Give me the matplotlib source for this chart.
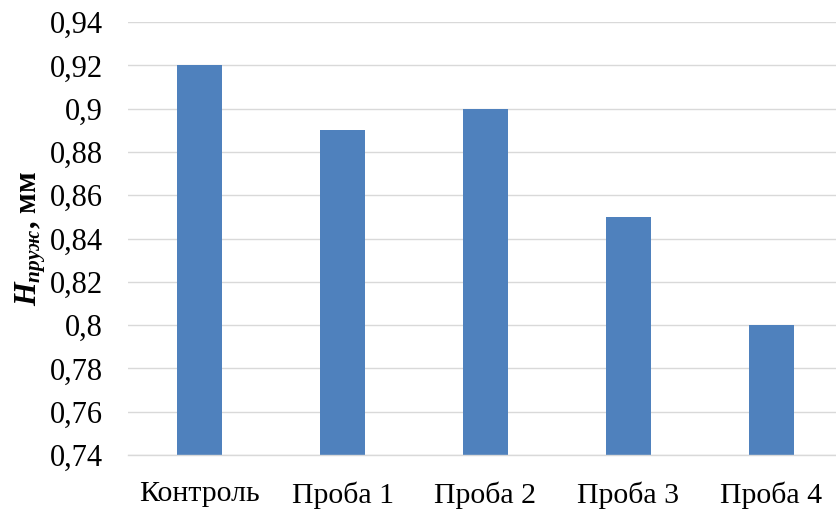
import matplotlib
matplotlib.use("Agg")
import matplotlib.pyplot as plt

categories = ["Контроль", "Проба 1", "Проба 2", "Проба 3", "Проба 4"]
heights = [0.92, 0.89, 0.90, 0.85, 0.80]
yticks = [0.74, 0.76, 0.78, 0.80, 0.82, 0.84, 0.86, 0.88, 0.90, 0.92, 0.94]

plt.rcParams["font.family"] = "Liberation Serif"
plt.rcParams["mathtext.fontset"] = "custom"
plt.rcParams["mathtext.rm"] = "Liberation Serif:bold"
plt.rcParams["mathtext.it"] = "Liberation Serif:italic:bold"
plt.rcParams["mathtext.bf"] = "Liberation Serif:italic:bold"


def fmt(v):
    s = f"{v:.2f}".rstrip("0").rstrip(".")
    return s.replace(".", ",")


fig = plt.figure(figsize=(8.37, 5.11), dpi=100)
ax = fig.add_axes([0.153, 0.1096, 0.854, 0.847])

x = range(len(categories))
ax.bar(x, [h - 0.74 for h in heights], bottom=0.74, width=0.31,
       color="#4F81BD", zorder=3)

ax.set_xlim(-0.5, len(categories) - 0.5)
ax.set_ylim(0.74, 0.94)
ax.set_yticks(yticks)
ax.set_yticklabels([fmt(v) for v in yticks])
ax.set_xticks(list(x))
ax.set_xticklabels(categories)
ax.tick_params(axis="both", length=0, colors="#000000")
ax.tick_params(axis="x", labelsize=21.5, pad=19)
ax.tick_params(axis="y", labelsize=22, pad=18)

ax.grid(axis="y", color="#d9d9d9", linewidth=1, zorder=0)
for side in ("top", "right", "left"):
    ax.spines[side].set_visible(False)
ax.spines["bottom"].set_color("#d9d9d9")
ax.spines["bottom"].set_linewidth(1)
ax.spines["bottom"].set_zorder(4)

ax.set_ylabel(r"$H_{\mathit{пруж}}$, мм", fontsize=22, fontweight="bold")
ax.yaxis.set_label_coords(-0.112, 0.499)

fig.savefig("out.png", dpi=100)
